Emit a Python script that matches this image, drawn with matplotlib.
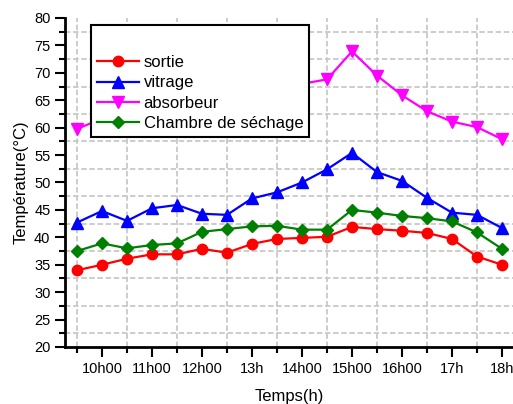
import numpy as np
import matplotlib
matplotlib.use('Agg')
import matplotlib.pyplot as plt
from matplotlib.ticker import FixedLocator

plt.rcParams['font.family'] = ['Liberation Sans', 'DejaVu Sans']

# heures de mesure (9h30 -> 18h00, pas de 30 min)
heures = np.arange(9.5, 18.01, 0.5)

sortie = [34.0, 35.0, 36.1, 36.9, 36.9, 37.9, 37.2, 38.8, 39.7, 39.9,
          40.1, 41.9, 41.5, 41.2, 40.8, 39.7, 36.5, 35.0]
vitrage = [42.7, 44.8, 43.0, 45.3, 45.9, 44.3, 44.1, 47.1, 48.2, 50.0,
           52.4, 55.4, 51.9, 50.3, 47.2, 44.5, 44.1, 41.7]
absorbeur = [59.8, 61.6, 62.3, 63.0, 63.8, 64.5, 65.2, 66.0, 66.8, 68.0,
             68.8, 73.9, 69.5, 65.9, 63.0, 61.1, 60.1, 57.9]
chambre = [37.5, 38.9, 38.0, 38.6, 38.9, 41.0, 41.5, 42.0, 42.1, 41.4,
           41.4, 45.0, 44.5, 43.9, 43.5, 42.9, 40.9, 37.9]

xticks = [10, 11, 12, 13, 14, 15, 16, 17, 18]
xlabels = ['10h00', '11h00', '12h00', '13h', '14h00', '15h00', '16h00', '17h', '18h']

fig = plt.figure(figsize=(5.13, 4.04), dpi=100)
ax = fig.add_axes([65/513, 1-347/404, 448/513, 329/404])

ax.plot(heures, sortie, '-o', color='#ff0000', lw=1.6, ms=7.5, label='sortie', zorder=3)
ax.plot(heures, vitrage, '-^', color='#0000ff', lw=1.6, ms=8, label='vitrage', zorder=3)
ax.plot(heures, absorbeur, '-v', color='#ff00ff', lw=1.6, ms=8, label='absorbeur', zorder=3)
ax.plot(heures, chambre, '-D', color='#008000', lw=1.6, ms=6, label='Chambre de séchage', zorder=3)

ax.set_xlim(9.26, 18.22)
ax.set_ylim(20, 80)

ax.set_xticks(xticks)
ax.set_xticklabels(xlabels)
ax.xaxis.set_minor_locator(FixedLocator(np.arange(9.5, 18.0, 1.0)))
ax.set_yticks(np.arange(20, 81, 5))
ax.yaxis.set_minor_locator(FixedLocator(np.arange(22.5, 80, 5)))

ax.tick_params(which='major', length=7, width=1.5, labelsize=10.5, direction='out')
ax.tick_params(which='minor', length=4, width=1.5, direction='out')

# grille sur les graduations secondaires
ax.grid(which='minor', color='#c8c8c8', linestyle=(0, (3, 1.5)), linewidth=1.3, zorder=0)
ax.grid(which='major', visible=False)
ax.set_axisbelow(True)

for s in ['top', 'right']:
    ax.spines[s].set_visible(False)
for s in ['left', 'bottom']:
    ax.spines[s].set_linewidth(2)

ax.set_xlabel('Temps(h)', fontsize=12, labelpad=10)
ax.set_ylabel('Température(°C)', fontsize=12, labelpad=4)

leg = ax.legend(loc='upper left', bbox_to_anchor=(91/513, 1-25/404),
                bbox_transform=fig.transFigure, fontsize=12, title=' ',
                title_fontsize=15, handlelength=2.5, handletextpad=0.3,
                labelspacing=0.32, borderpad=0.35, fancybox=False, framealpha=1,
                edgecolor='black', borderaxespad=0)
leg.get_frame().set_linewidth(1.5)
leg.set_zorder(5)

plt.savefig('out.png', dpi=100)
